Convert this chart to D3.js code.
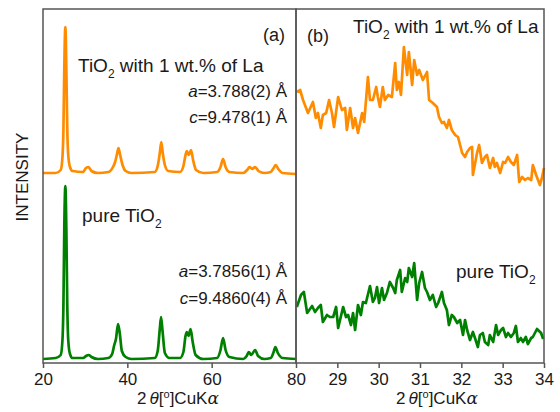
<!DOCTYPE html>
<html lang='en'>
  <head>
    <meta charset='utf-8'>
    <title>XRD: TiO2 and TiO2 with La</title>
    <script src='https://cdn.jsdelivr.net/npm/d3@7/dist/d3.min.js'></script>
    <style>
    body { margin: 0; background: #fff; }
    svg text { font-family: 'Liberation Sans', Arial, sans-serif; fill: #1a1a1a; }
    .axis line { stroke: #555; stroke-width: 1.5; }
    .axis path { display: none; }
    .axis text { font-size: 17px; font-family: 'Liberation Sans', Arial, sans-serif; fill: #1a1a1a; }
    </style>
  </head>
  <body>
    <script>

    // panel (a): full pattern, [2theta, intensity a.u.]
    var laWide = [[20,190],[23,190],[24.2,193],[24.6,205],[24.85,235],[25.05,295],[25.3,336],[25.55,290],
      [25.75,235],[26.0,207],[26.4,196],[27,192],[29.5,191],[30.2,195],[30.8,196],[31.5,192],[33,190],
      [35.5,191],[36.6,196],[37.1,201],[37.5,208],[37.9,215],[38.3,208],[38.8,199],[39.6,192],[41,190],
      [46.5,191],[47.2,197],[47.7,210],[48.05,221],[48.4,210],[48.9,198],[49.7,192],[52.5,191],[53.3,197],
      [53.8,208],[54.1,212],[54.6,208],[55.1,213],[55.6,203],[56.3,193],[58,190],[61.3,191],[62.1,196],
      [62.7,204],[63.3,196],[64.2,191],[67.5,190],[68.4,193],[69.0,196],[69.6,194],[70.3,196],[71.1,192],
      [72.5,190],[74.0,191],[74.7,195],[75.2,198],[75.8,194],[76.8,190],[80,189]];

    var pureWide = [[20,4],[23,5],[24.2,8],[24.6,22],[24.85,60],[25.05,135],[25.3,177],[25.55,130],
      [25.75,60],[26.0,22],[26.4,9],[27,5],[29.5,5],[30.2,7],[30.8,8],[31.5,6],[33,4],[35.5,5],[36.4,9],
      [36.9,18],[37.3,24],[37.8,39],[38.2,30],[38.7,12],[39.6,6],[41,4],[46.5,5],[47.2,12],[47.7,34],
      [48.0,46],[48.35,32],[48.9,10],[50,5],[52.5,5],[53.3,11],[53.8,27],[54.1,31],[54.5,27],[55.0,34],
      [55.5,21],[56.2,8],[58,4],[61.3,5],[62.1,13],[62.7,25],[63.3,13],[64.2,6],[67.5,4],[68.3,7],
      [68.8,11],[69.4,8],[70.3,13],[71.0,7],[72.5,4],[74.0,5],[74.7,11],[75.1,16],[75.7,10],[76.8,5],[80,4]];

    // panel (b): zoom 28-34
    var laZoom = [[28.02,271],[28.10,273],[28.17,263],[28.29,250],[28.41,261],[28.48,245],[28.53,250],
      [28.60,235],[28.65,248],[28.73,250],[28.80,263],[28.87,250],[28.92,236],[29.02,266],[29.11,253],
      [29.19,255],[29.23,233],[29.31,255],[29.38,235],[29.43,245],[29.50,230],[29.60,250],[29.65,241],
      [29.74,286],[29.79,263],[29.86,263],[29.94,276],[29.98,266],[30.03,256],[30.10,276],[30.15,263],
      [30.23,268],[30.32,266],[30.40,300],[30.44,273],[30.49,281],[30.54,268],[30.61,316],[30.69,288],
      [30.73,311],[30.81,278],[30.86,303],[30.93,288],[30.98,293],[31.07,283],[31.17,291],[31.22,263],
      [31.31,260],[31.41,256],[31.46,246],[31.53,240],[31.58,241],[31.65,235],[31.70,243],[31.77,233],
      [31.85,228],[31.92,226],[32.02,210],[32.09,206],[32.14,211],[32.21,215],[32.26,216],[32.28,188],
      [32.38,210],[32.43,218],[32.50,200],[32.57,206],[32.62,208],[32.69,195],[32.77,205],[32.81,196],
      [32.86,200],[32.94,190],[33.01,201],[33.06,200],[33.13,206],[33.20,201],[33.27,198],[33.35,208],
      [33.40,181],[33.47,186],[33.54,183],[33.61,185],[33.69,183],[33.73,198],[33.81,188],[33.90,178],
      [33.95,185],[34.00,195]];

    var pureZoom = [[28.02,56],[28.12,68],[28.19,71],[28.27,50],[28.39,57],[28.46,51],[28.53,55],
      [28.60,58],[28.65,41],[28.75,48],[28.82,46],[28.90,46],[28.97,56],[29.02,35],[29.14,56],[29.21,46],
      [29.26,48],[29.33,38],[29.38,50],[29.43,33],[29.50,58],[29.57,48],[29.62,61],[29.69,60],[29.79,77],
      [29.86,61],[29.91,65],[29.96,76],[30.01,60],[30.08,75],[30.13,63],[30.20,70],[30.27,81],[30.35,75],
      [30.40,70],[30.44,83],[30.52,93],[30.56,71],[30.64,85],[30.69,81],[30.73,95],[30.81,86],[30.86,100],
      [30.93,63],[30.98,80],[31.05,91],[31.12,75],[31.17,71],[31.24,63],[31.31,68],[31.39,56],[31.44,60],
      [31.53,71],[31.58,60],[31.65,53],[31.70,38],[31.77,48],[31.82,46],[31.90,40],[31.97,43],[32.04,28],
      [32.09,43],[32.14,33],[32.21,23],[32.28,31],[32.33,25],[32.40,16],[32.45,28],[32.52,30],[32.57,21],
      [32.65,18],[32.69,28],[32.77,21],[32.84,38],[32.89,28],[32.96,33],[33.01,35],[33.08,26],[33.13,30],
      [33.20,26],[33.27,30],[33.32,37],[33.37,21],[33.44,25],[33.49,21],[33.56,26],[33.61,19],[33.69,25],
      [33.73,26],[33.83,34],[33.93,30],[33.98,24]];

    var ticksA = [20, 40, 60, 80];
    var ticksB = [29, 30, 31, 32, 33, 34];

    var orange = '#ff8c00';
    var green = '#008000';

    var w = 560;
    var h = 412;

    var svg = d3.select('body')
                .append('svg')
                .attr('width', w)
                .attr('height', h);

    var plotTop = 9, plotBottom = 363;
    var xA = d3.scaleLinear().domain([20, 80]).range([43, 296]);
    var xB = d3.scaleLinear().domain([28, 34]).range([296, 544]);
    var y = d3.scaleLinear().domain([0, 354]).range([plotBottom, plotTop]);

    function drawLine(data, x, color, curve){
      var line = d3.line()
                   .x(function(d){ return x(d[0]); })
                   .y(function(d){ return y(d[1]); })
                   .curve(curve);
      svg.append('path')
         .datum(data)
         .attr('d', line)
         .attr('fill', 'none')
         .attr('stroke', color)
         .attr('stroke-width', 2.7)
         .attr('stroke-linejoin', 'round');
    }

    drawLine(laWide, xA, orange, d3.curveMonotoneX);
    drawLine(pureWide, xA, green, d3.curveMonotoneX);
    drawLine(laZoom, xB, orange, d3.curveLinear);
    drawLine(pureZoom, xB, green, d3.curveLinear);

    // frames
    [xA, xB].forEach(function(x){
      svg.append('rect')
         .attr('x', x.range()[0])
         .attr('y', plotTop)
         .attr('width', x.range()[1] - x.range()[0])
         .attr('height', plotBottom - plotTop)
         .attr('fill', 'none')
         .attr('stroke', '#555')
         .attr('stroke-width', 1.5);
    });

    svg.append('g')
       .attr('class', 'axis')
       .attr('transform', 'translate(0,' + plotBottom + ')')
       .call(d3.axisBottom(xA).tickValues(ticksA).tickSize(5).tickPadding(5).tickFormat(d3.format('d')));

    svg.append('g')
       .attr('class', 'axis')
       .attr('transform', 'translate(0,' + plotBottom + ')')
       .call(d3.axisBottom(xB).tickValues(ticksB).tickSize(5).tickPadding(5).tickFormat(d3.format('d')));

    // axis titles
    function xTitle(cx){
      var t = svg.append('text')
                 .attr('x', cx)
                 .attr('y', 404)
                 .attr('text-anchor', 'middle')
                 .attr('font-size', '17px');
      t.append('tspan').text('2');
      t.append('tspan').attr('font-style', 'italic').attr('dx', 3).text('θ');
      t.append('tspan').text('[');
      t.append('tspan').attr('font-size', '11px').attr('dy', -6).text('o');
      t.append('tspan').attr('dy', 6).text(']CuK');
      t.append('tspan').attr('font-family', 'DejaVu Serif, serif').attr('font-style', 'italic').text('α');
    }
    xTitle(178);
    xTitle(437);

    svg.append('text')
       .attr('transform', 'translate(28,177) rotate(-90)')
       .attr('text-anchor', 'middle')
       .attr('font-size', '17px')
       .text('INTENSITY');

    // labels
    function sampleLabel(x, yy, pre, post, anchor){
      var t = svg.append('text')
                 .attr('x', x)
                 .attr('y', yy)
                 .attr('text-anchor', anchor || 'start')
                 .attr('font-size', '19px');
      t.append('tspan').text(pre + 'TiO');
      t.append('tspan').attr('font-size', '12px').attr('dy', 6).text('2');
      t.append('tspan').attr('dy', -6).text(post);
    }
    sampleLabel(78, 72, '', ' with 1 wt.% of La');
    sampleLabel(82, 222, 'pure ', '');
    sampleLabel(353, 33, '', ' with 1 wt.% of La');
    sampleLabel(456, 278, 'pure ', '');

    function cellLabel(x, yy, name, val){
      var t = svg.append('text')
                 .attr('x', x)
                 .attr('y', yy)
                 .attr('text-anchor', 'end')
                 .attr('font-size', '17px');
      t.append('tspan').attr('font-style', 'italic').text(name);
      t.append('tspan').text('=' + val + ' Å');
    }
    cellLabel(287, 97, 'a', '3.788(2)');
    cellLabel(287, 123, 'c', '9.478(1)');
    cellLabel(287, 277, 'a', '3.7856(1)');
    cellLabel(287, 304, 'c', '9.4860(4)');

    svg.append('text').attr('x', 285).attr('y', 41).attr('text-anchor', 'end')
       .attr('font-size', '18px').text('(a)');
    svg.append('text').attr('x', 307).attr('y', 42)
       .attr('font-size', '18px').text('(b)');

    </script>
  </body>
</html>
